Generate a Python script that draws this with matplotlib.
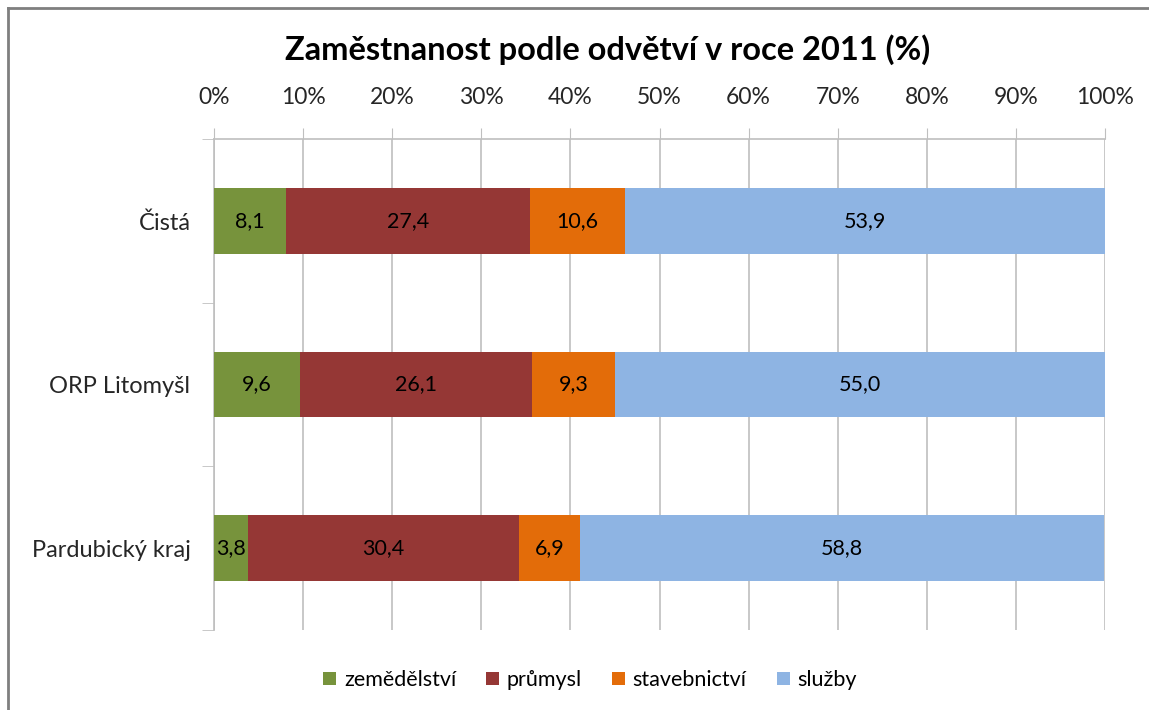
import numpy as np
import matplotlib.pyplot as plt
from matplotlib.lines import Line2D

plt.rcParams['font.family'] = ['Lato', 'DejaVu Sans']

regions = ['Čistá', 'ORP Litomyšl', 'Pardubický kraj']
sectors = ['zemědělství', 'průmysl', 'stavebnictví', 'služby']
zemedelstvi = [8.1, 9.6, 3.8]
prumysl = [27.4, 26.1, 30.4]
stavebnictvi = [10.6, 9.3, 6.9]
sluzby = [53.9, 55.0, 58.8]
colors = ['#77933C', '#953735', '#E36C09', '#8EB4E3']
ticks = np.arange(0, 101, 10)

fig = plt.figure(figsize=(11.49, 7.10), dpi=100)
ax = fig.add_axes([214 / 1149, 1 - 630 / 710, (1105 - 214) / 1149, (630 - 139) / 710])

y = np.arange(len(regions))
left = np.zeros(len(regions))
for name, vals, col in zip(sectors, [zemedelstvi, prumysl, stavebnictvi, sluzby], colors):
    vals = np.array(vals)
    bars = ax.barh(y, vals, left=left, height=0.4, color=col, label=name, zorder=3)
    labels = [f'{v:.1f}'.replace('.', ',') for v in vals]
    ax.bar_label(bars, labels=labels, label_type='center', fontsize=15.5, color='black')
    left += vals

ax.set_xlim(0, 100)
ax.set_ylim(2.5, -0.5)
ax.xaxis.tick_top()
ax.set_xticks(ticks)
ax.set_xticklabels([f'{t}%' for t in ticks], fontsize=16.5, color='#262626')
ax.tick_params(axis='x', length=8, color='#BFBFBF', pad=14)
ax.grid(axis='x', color='#BFBFBF', linewidth=1.2, zorder=0)

ax.set_yticks(y)
ax.set_yticklabels(regions, fontsize=17, color='#262626')
ax.set_yticks([-0.5, 0.5, 1.5, 2.5], minor=True)
ax.tick_params(axis='y', which='major', length=0, pad=17)
ax.tick_params(axis='y', which='minor', length=9, color='#BFBFBF')

for s in ['right', 'bottom']:
    ax.spines[s].set_visible(False)
for s in ['top', 'left']:
    ax.spines[s].set_color('#BFBFBF')
    ax.spines[s].set_linewidth(1.2)

fig.text(608 / 1149, 1 - 50 / 710, 'Zaměstnanost podle odvětví v roce 2011 (%)',
         ha='center', va='center', fontsize=23.5, fontweight='bold')

ax.legend(loc='center', bbox_to_anchor=(590 / 1149, 1 - 680 / 710),
          bbox_transform=fig.transFigure, ncol=4, frameon=False, fontsize=15.5,
          handlelength=0.6, handleheight=0.6, handletextpad=0.35, columnspacing=1.4)

# chart border (only left and top visible in the crop)
fig.add_artist(Line2D([8 / 1149, 8 / 1149], [0, 1 - 8 / 710], transform=fig.transFigure,
                      color='#7F7F7F', linewidth=2))
fig.add_artist(Line2D([8 / 1149, 1], [1 - 8 / 710, 1 - 8 / 710], transform=fig.transFigure,
                      color='#7F7F7F', linewidth=2))

fig.savefig('out.png', dpi=100)
